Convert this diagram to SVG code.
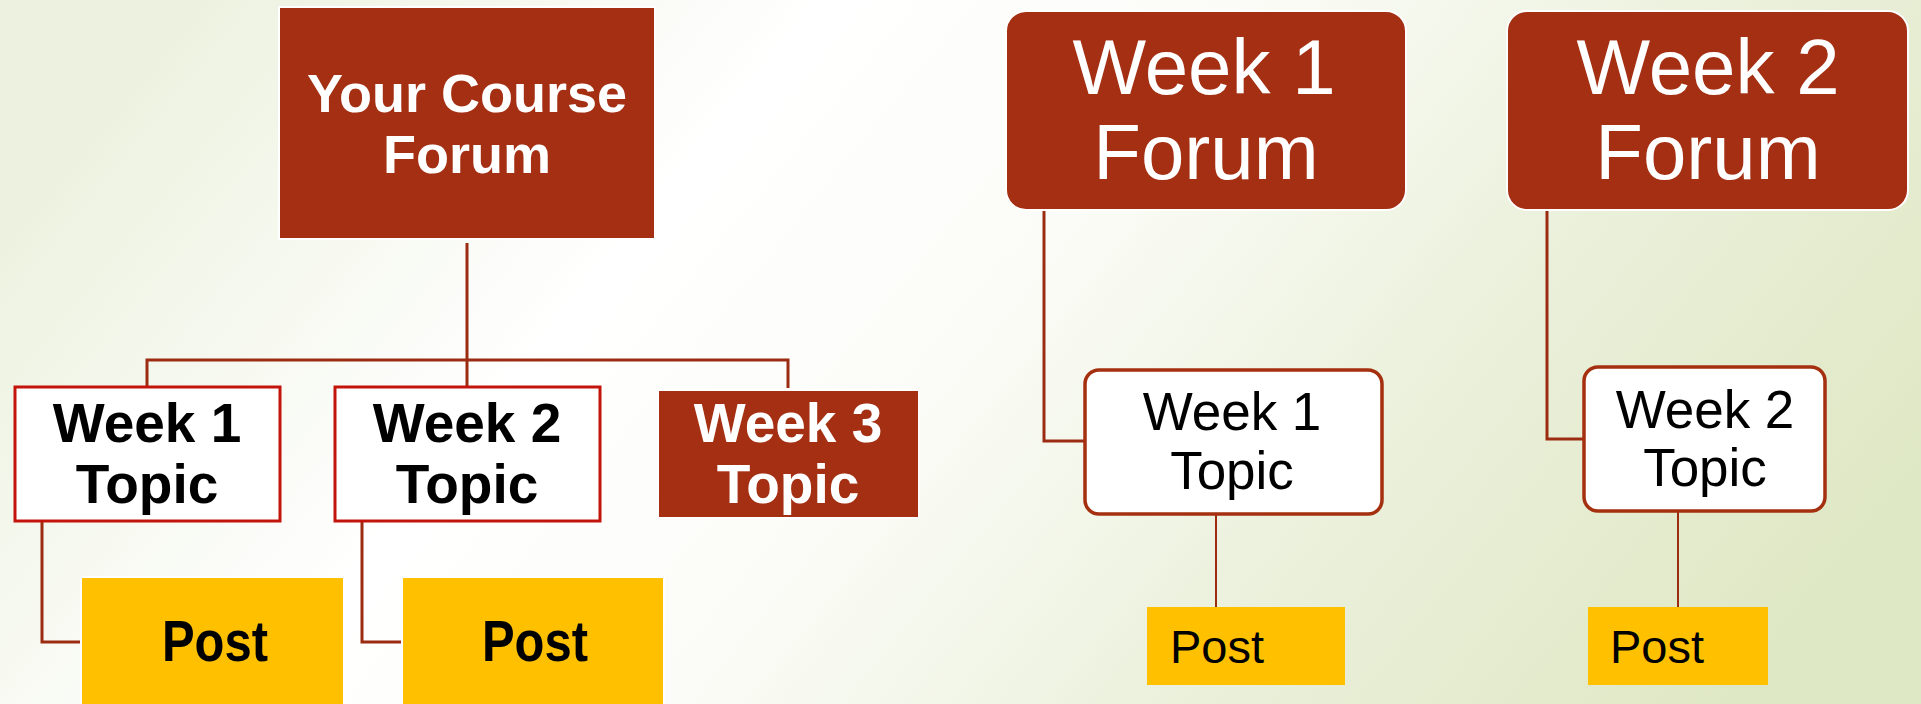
<svg xmlns="http://www.w3.org/2000/svg" width="1921" height="704" viewBox="0 0 1921 704">
<defs>
<linearGradient id="bg" x1="0" y1="0.35" x2="1" y2="0.65">
<stop offset="0" stop-color="#edf2e0"/>
<stop offset="0.3" stop-color="#ffffff"/>
<stop offset="0.5" stop-color="#fbfcf7"/>
<stop offset="0.75" stop-color="#eaf0da"/>
<stop offset="1" stop-color="#dfe8c5"/>
</linearGradient>
<style>
.conn{fill:none;stroke:#9b2c12;stroke-width:3}
.thin{fill:none;stroke:#9b2c12;stroke-width:2}
.dark{fill:#a42f12;stroke:#ffffff;stroke-width:2}
.redbox{fill:#ffffff;stroke:#c3140c;stroke-width:3}
.rbox{fill:#ffffff;stroke:#a5300f;stroke-width:3.5}
.post{fill:#ffc000}
.bw{font-family:"Liberation Sans",Arial,sans-serif;font-weight:bold;fill:#ffffff;text-anchor:middle}
.bb{font-family:"Liberation Sans",Arial,sans-serif;font-weight:bold;fill:#000000;text-anchor:middle}
.rw{font-family:"Liberation Sans",Arial,sans-serif;fill:#ffffff;text-anchor:middle}
.rb{font-family:"Liberation Sans",Arial,sans-serif;fill:#000000}
</style>
</defs>
<rect x="0" y="0" width="1921" height="704" fill="url(#bg)"/>

<g id="connectors">
<path class="conn" d="M467,243 V360 M147,387 V360 H788 V388 M467,360 V387"/>
<path class="conn" d="M42,521 V642 H81"/>
<path class="conn" d="M362,521 V642 H402"/>
<path class="conn" d="M1044,210 V441 H1085"/>
<path class="thin" d="M1216,514 V607"/>
<path class="conn" d="M1547,210 V439 H1584"/>
<path class="thin" d="M1678,511 V607"/>
</g>

<g id="course-forum">
<rect class="dark" x="279" y="7" width="376" height="232"/>
<text class="bw" x="467" y="112" font-size="54">Your Course</text>
<text class="bw" x="467" y="173" font-size="54">Forum</text>
</g>

<g id="week1-topic-left">
<rect class="redbox" x="15" y="387" width="265" height="134"/>
<text class="bb" x="147" y="442" font-size="55">Week 1</text>
<text class="bb" x="147" y="503" font-size="55">Topic</text>
</g>

<g id="week2-topic-left">
<rect class="redbox" x="335" y="387" width="265" height="134"/>
<text class="bb" x="467" y="442" font-size="55">Week 2</text>
<text class="bb" x="467" y="503" font-size="55">Topic</text>
</g>

<g id="week3-topic-left">
<rect class="dark" x="658" y="390" width="261" height="128" stroke-width="1"/>
<text class="bw" x="788" y="442" font-size="55">Week 3</text>
<text class="bw" x="788" y="503" font-size="55">Topic</text>
</g>

<g id="post-left-1">
<rect class="post" x="81" y="577" width="263" height="130" stroke="#ffffff" stroke-width="2"/>
<text class="bb" x="215" y="661" font-size="57" textLength="106" lengthAdjust="spacingAndGlyphs">Post</text>
</g>

<g id="post-left-2">
<rect class="post" x="402" y="577" width="262" height="130" stroke="#ffffff" stroke-width="2"/>
<text class="bb" x="535" y="661" font-size="57" textLength="106" lengthAdjust="spacingAndGlyphs">Post</text>
</g>

<g id="week1-forum">
<rect class="dark" x="1006" y="11" width="400" height="199" rx="20"/>
<text class="rw" x="1204" y="94" font-size="78">Week 1</text>
<text class="rw" x="1206" y="179" font-size="78">Forum</text>
</g>

<g id="week2-forum">
<rect class="dark" x="1507" y="11" width="401" height="199" rx="20"/>
<text class="rw" x="1708" y="94" font-size="78">Week 2</text>
<text class="rw" x="1708" y="179" font-size="78">Forum</text>
</g>

<g id="week1-topic-right">
<rect class="rbox" x="1085" y="370" width="297" height="144" rx="14"/>
<text class="rb" x="1232" y="430" font-size="53" text-anchor="middle">Week 1</text>
<text class="rb" x="1232" y="489" font-size="53" text-anchor="middle">Topic</text>
</g>

<g id="week2-topic-right">
<rect class="rbox" x="1584" y="367" width="241" height="144" rx="14"/>
<text class="rb" x="1705" y="428" font-size="53" text-anchor="middle">Week 2</text>
<text class="rb" x="1705" y="486" font-size="53" text-anchor="middle">Topic</text>
</g>

<g id="post-right-1">
<rect class="post" x="1147" y="607" width="198" height="78"/>
<text class="rb" x="1170" y="663" font-size="47">Post</text>
</g>

<g id="post-right-2">
<rect class="post" x="1588" y="607" width="180" height="78"/>
<text class="rb" x="1610" y="663" font-size="47">Post</text>
</g>
</svg>
